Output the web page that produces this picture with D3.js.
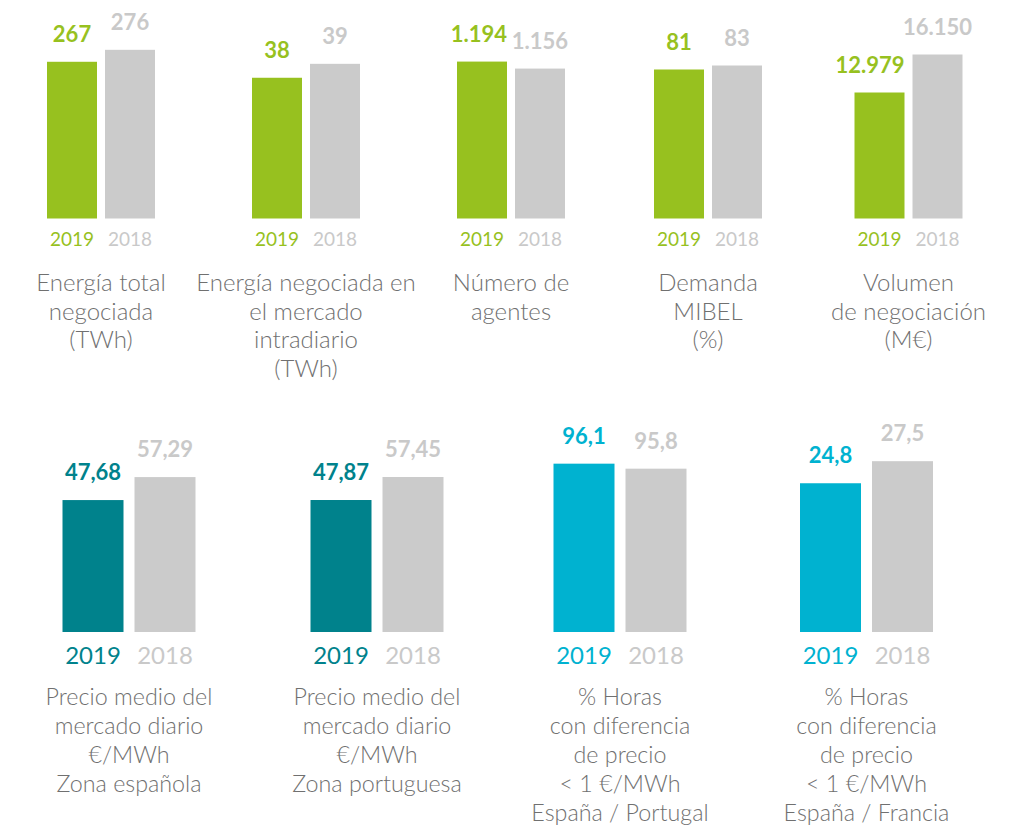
<!DOCTYPE html>
<html>
<head>
<meta charset="utf-8">
<script src="https://cdn.jsdelivr.net/npm/d3@7"></script>
<style>
  html, body { margin: 0; padding: 0; background: #fff; }
  svg { display: block; font-family: Lato, 'Open Sans', sans-serif; }
</style>
</head>
<body>
<div id="chart"></div>
<script>
'use strict';

// data
const years = ['2019', '2018'];
const values2019 = [267, 38, 1194, 81, 12979, 47.68, 47.87, 96.1, 24.8];
const values2018 = [276, 39, 1156, 83, 16150, 57.29, 57.45, 95.8, 27.5];
const valueFormats = [',d', ',d', ',d', ',d', ',d', ',.2f', ',.2f', ',.1f', ',.1f'];
const titles = [
  ['Energía total', 'negociada', '(TWh)'],
  ['Energía negociada en', 'el mercado', 'intradiario', '(TWh)'],
  ['Número de', 'agentes'],
  ['Demanda', 'MIBEL', '(%)'],
  ['Volumen', 'de negociación', '(M€)'],
  ['Precio medio del', 'mercado diario', '€/MWh', 'Zona española'],
  ['Precio medio del', 'mercado diario', '€/MWh', 'Zona portuguesa'],
  ['% Horas', 'con diferencia', 'de precio', '< 1 €/MWh', 'España / Portugal'],
  ['% Horas', 'con diferencia', 'de precio', '< 1 €/MWh', 'España / Francia']
];

// layout (infographic bars don't start at zero, so each panel has its own domain)
const rows = [
  { base: 218.5, barW: 50, gap: 8, yearSize: 19, yearDy: 27.5, titleY: 291, titleSize: 24, lineH: 28.7 },
  { base: 632, barW: 61, gap: 11, yearSize: 24, yearDy: 32, titleY: 705, titleSize: 23.3, lineH: 29 }
];
const panels = [
  { row: 0, cx: 101, color: '#97c11f', domain: [149, 277] },
  { row: 0, cx: 306, color: '#97c11f', domain: [27.9, 40.1] },
  { row: 0, cx: 511, color: '#97c11f', domain: [342, 1265] },
  { row: 0, cx: 708, color: '#97c11f', domain: [6.5, 91.5] },
  { row: 0, cx: 908.5, color: '#97c11f', domain: [2465, 16651] },
  { row: 1, cx: 129, color: '#00828c', domain: [-7.5, 63.6] },
  { row: 1, cx: 377, color: '#00828c', domain: [-7.1, 63.7] },
  { row: 1, cx: 620, color: '#00b2d0', domain: [86, 96.2] },
  { row: 1, cx: 866.5, color: '#00b2d0', domain: [6.6, 27.4] }
];
const grey = '#cbcbcb';
const greyText = '#c9c9c9';
const titleColor = '#707070';
const maxH = 170;

const locale = d3.formatLocale({ decimal: ',', thousands: '.', grouping: [3], currency: ['', '€'] });

const $svg = d3.select('#chart').append('svg')
  .attr('width', 1012)
  .attr('height', 826);

panels.forEach((p, i) => {
  const row = rows[p.row];
  const total = row.barW * 2 + row.gap;
  const x = d3.scaleBand()
    .domain(years)
    .range([p.cx - total / 2, p.cx + total / 2])
    .paddingInner(row.gap / (row.barW + row.gap))
    .paddingOuter(0);
  const y = d3.scaleLinear()
    .domain(p.domain)
    .range([row.base, row.base - maxH]);
  const fmt = locale.format(valueFormats[i]);

  const bars = [
    { year: years[0], value: values2019[i], fill: p.color, text: p.color },
    { year: years[1], value: values2018[i], fill: grey, text: greyText }
  ];

  const $g = $svg.append('g').attr('class', 'panel');

  $g.selectAll('.bar')
    .data(bars)
    .enter()
    .append('rect')
    .attr('class', 'bar')
    .attr('x', (d) => x(d.year))
    .attr('width', x.bandwidth())
    .attr('y', (d) => y(d.value))
    .attr('height', (d) => row.base - y(d.value))
    .attr('fill', (d) => d.fill);

  const $values = $g.selectAll('.value')
    .data(bars)
    .enter()
    .append('text')
    .attr('class', 'value')
    .attr('x', (d) => x(d.year) + x.bandwidth() / 2)
    .attr('y', (d) => y(d.value) - 20)
    .attr('text-anchor', 'middle')
    .attr('font-size', 22)
    .attr('font-weight', 700)
    .attr('fill', (d) => d.text)
    .text((d) => fmt(d.value));

  // a wide 2019 label is kept from running over the 2018 bar
  $values.filter((d, k) => k === 0).each(function(d) {
    const w = this.getComputedTextLength();
    const right = x(d.year) + x.bandwidth();
    const cx = Math.min(x(d.year) + x.bandwidth() / 2, right - w / 2);
    d3.select(this).attr('x', cx);
  });

  $g.selectAll('.year')
    .data(bars)
    .enter()
    .append('text')
    .attr('class', 'year')
    .attr('x', (d) => x(d.year) + x.bandwidth() / 2)
    .attr('y', row.base + row.yearDy)
    .attr('text-anchor', 'middle')
    .attr('font-size', row.yearSize)
    .attr('font-weight', 400)
    .attr('fill', (d) => d.text)
    .text((d) => d.year);

  $g.append('text')
    .attr('class', 'title')
    .attr('text-anchor', 'middle')
    .attr('font-size', row.titleSize)
    .attr('font-weight', 300)
    .attr('fill', titleColor)
    .selectAll('tspan')
    .data(titles[i])
    .enter()
    .append('tspan')
    .attr('x', p.cx)
    .attr('y', (d, k) => row.titleY + k * row.lineH)
    .text((d) => d);
});
</script>
</body>
</html>
